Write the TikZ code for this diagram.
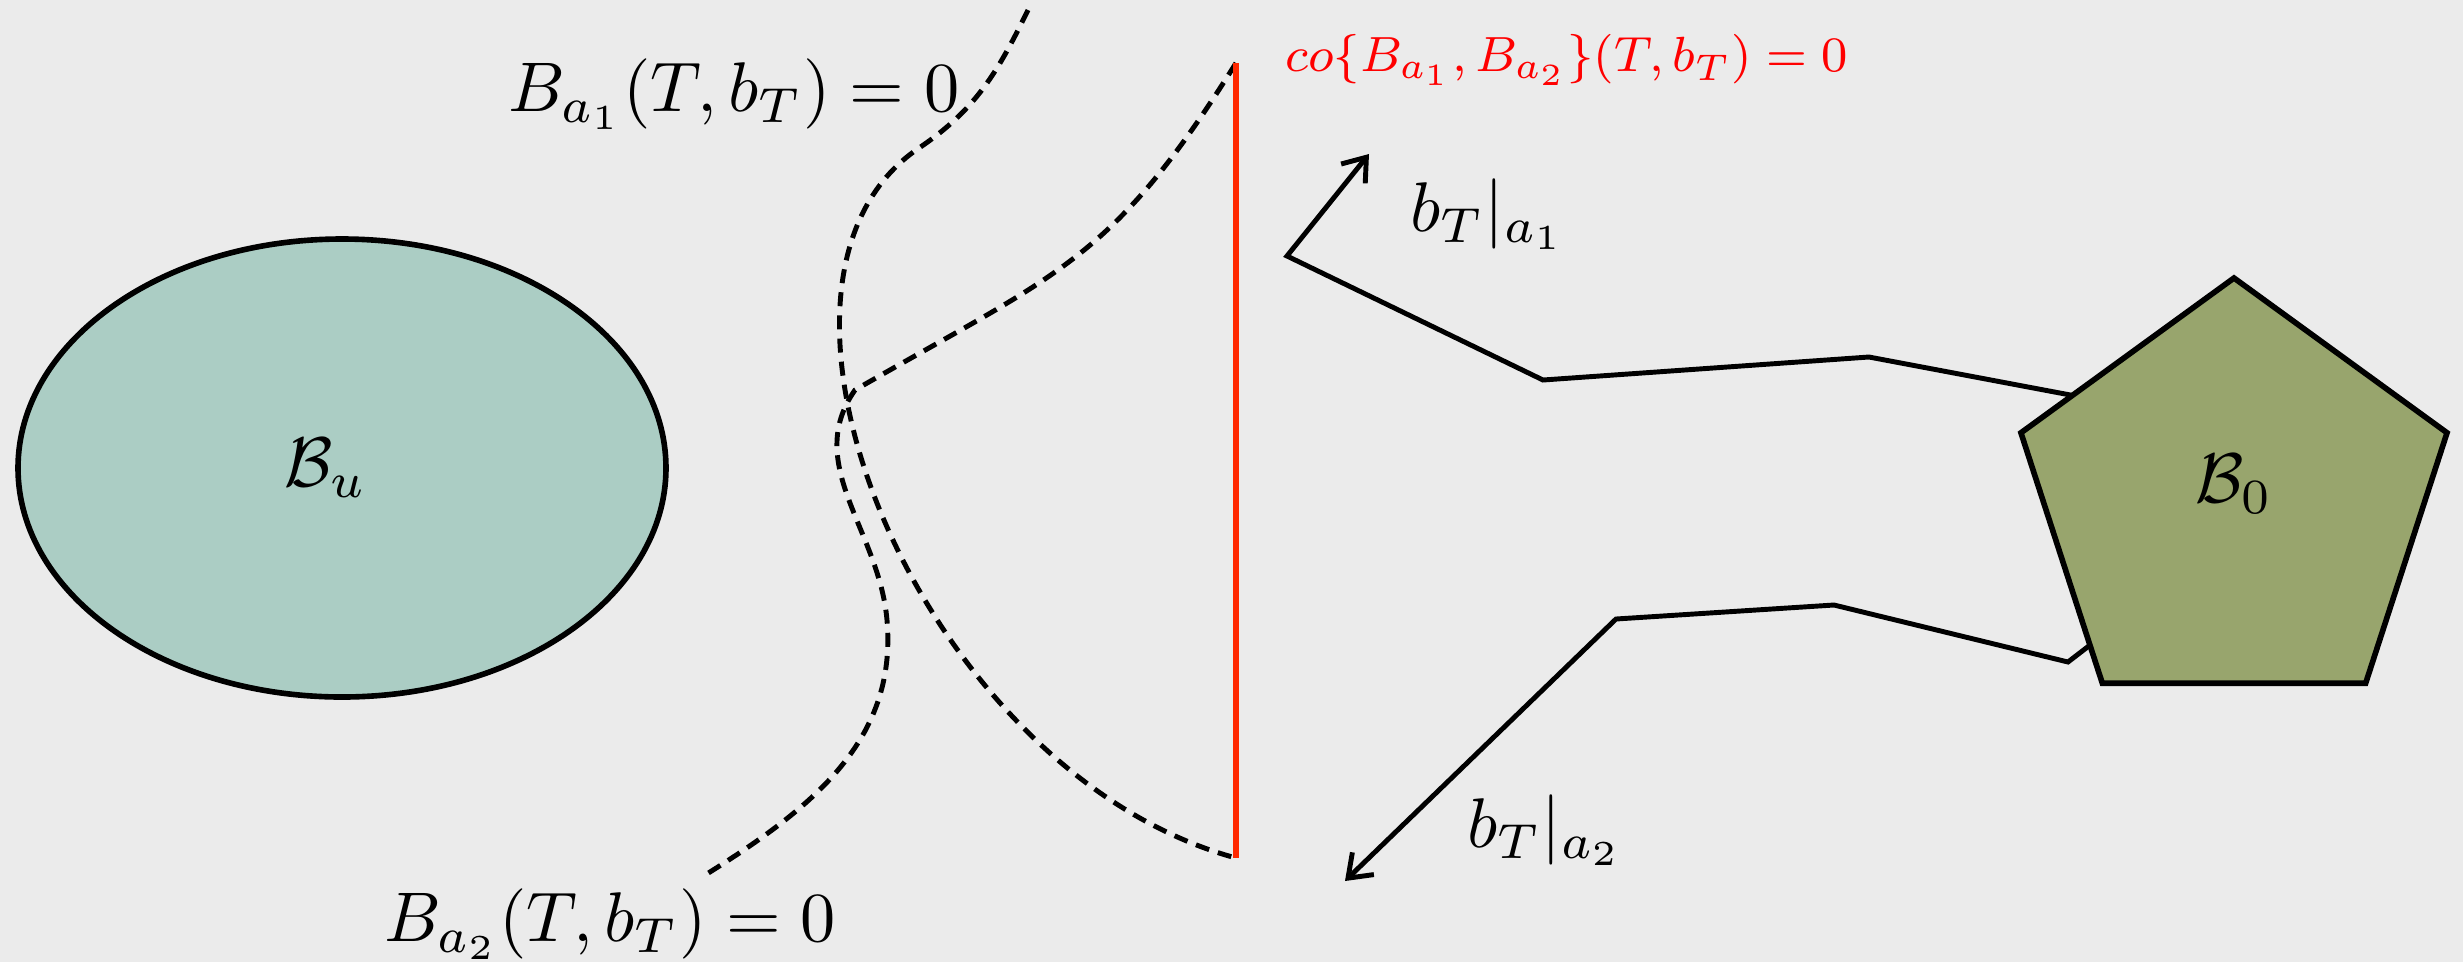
\documentclass[tikz,border=0pt]{standalone}
\usepackage{amsmath}
\usepackage{amssymb}
\usepackage{tikz}
\usetikzlibrary{shapes.geometric,arrows.meta,calc}

\definecolor{bgrey}{RGB}{235,235,235}
\definecolor{unsafecol}{RGB}{171,205,196}
\definecolor{initcol}{RGB}{152,165,109}
\definecolor{hullcol}{RGB}{255,40,0}

\begin{document}
\begin{tikzpicture}[
    region/.style={draw, thick, align=center, font=\normalsize},
    unsafe/.style={region, ellipse, fill=unsafecol, minimum width=3.24cm, minimum height=2.29cm},
    initset/.style={region, regular polygon, regular polygon sides=5, fill=initcol, minimum size=2.24cm, inner sep=0pt},
    boundary/.style={line width=0.7pt, dash pattern=on 2pt off 1.3pt},
    hull/.style={draw=hullcol, thick},
    traj/.style={line width=0.7pt, -{Straight Barb[length=3pt,width=4.4pt]}},
    lbl/.style={inner sep=1pt, font=\normalsize}
]
    % Canvas
    \fill[bgrey] (0,0) rectangle (12.315,4.81);
    \useasboundingbox (0,0) rectangle (12.315,4.81);

    % Trajectories (drawn first, the pentagon covers their start)
    \coordinate (u0) at (10.75,2.76);
    \coordinate (u1) at (9.345,3.025);
    \coordinate (u2) at (7.715,2.91);
    \coordinate (u3) at (6.435,3.53);
    \coordinate (u4) at (6.845,4.04);
    \coordinate (l0) at (10.6,1.70);
    \coordinate (l1) at (10.34,1.50);
    \coordinate (l2) at (9.17,1.785);
    \coordinate (l3) at (8.08,1.715);
    \coordinate (l4) at (6.725,0.405);
    \draw[traj] (u0) -- (u1) -- (u2) -- (u3) -- (u4);
    \draw[traj] (l0) -- (l1) -- (l2) -- (l3) -- (l4);

    % Sets
    \node[unsafe, label={[xshift=-0.08cm]center:$\mathcal{B}_u$}] (Bu) at (1.71,2.47) {};
    \node[initset, label={[yshift=0.09cm]center:$\mathcal{B}_0$}] (B0) at (11.17,2.30) {};

    % Barrier level sets
    \coordinate (redtop) at (6.18,4.495);
    \coordinate (redbot) at (6.18,0.52);
    \draw[boundary] (5.14,4.76) to[out=244,in=34] (4.595,4.07)
        .. controls (3.6,3.4) and (4.6,0.95) .. (redbot);
    \draw[boundary] (redtop) to[out=238,in=30,looseness=1.2] (4.275,2.86)
        to[out=235,in=95] (4.435,1.71) to[out=275,in=32] (3.51,0.425);
    \draw[hull] (redtop) -- (redbot);

    % Labels
    \node[lbl] (la1) at (3.67,4.34) {$B_{a_1}(T,b_T)=0$};
    \node[lbl] (la2) at (3.05,0.19) {$B_{a_2}(T,b_T)=0$};
    \node[lbl, text=red, font=\footnotesize, scale=0.88] (lco) at (7.835,4.51) {$co\{B_{a_1},B_{a_2}\}(T,b_T)=0$};
    \node[lbl] (lb1) at (7.44,3.74) {$b_T|_{a_1}$};
    \node[lbl] (lb2) at (7.725,0.66) {$b_T|_{a_2}$};

\end{tikzpicture}
\end{document}
